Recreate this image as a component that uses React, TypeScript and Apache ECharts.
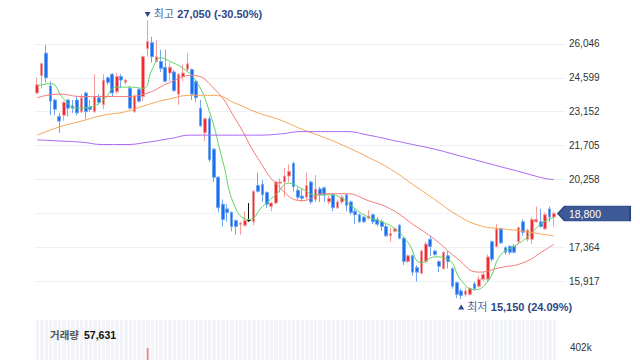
import { useEffect, useRef } from 'react';
import * as echarts from 'echarts';

// [open, close, low, high] per trading day
const candles: number[][] = [
  [23950, 24300, 23900, 24600], [24700, 25200, 24150, 25250], [25650, 24600, 24400, 26000], [24250, 23600, 23000, 24450],
  [23650, 23250, 23000, 23700], [22950, 22750, 22250, 23100], [23000, 23550, 22750, 23600], [23650, 23300, 22950, 23700],
  [23400, 23300, 23100, 23650], [23650, 23100, 23000, 23800], [23150, 23750, 23100, 23900], [23950, 23150, 22850, 24000],
  [23350, 23250, 23150, 23650], [23150, 23800, 23100, 24750], [23750, 23550, 23450, 23900], [23450, 24500, 23250, 24750],
  [24600, 24400, 24300, 24650], [24750, 23950, 23800, 24800], [24000, 24650, 23900, 24800], [24650, 24500, 24150, 24750],
  [24400, 24500, 24300, 24550], [24150, 23300, 23250, 24250], [23150, 23800, 23100, 23900], [24100, 23600, 23550, 24150],
  [23800, 25500, 23600, 25550], [25850, 26150, 25500, 27050], [26100, 25500, 25250, 26350], [25300, 25500, 25250, 26200],
  [25300, 25000, 24850, 25800], [25050, 24450, 24400, 25800], [24800, 25050, 24450, 25250], [24850, 24050, 24000, 24950],
  [23900, 24750, 23450, 24800], [24650, 24800, 24450, 25150], [24950, 25200, 24850, 25650], [24950, 23900, 23650, 25000],
  [24450, 23750, 23550, 24500], [23300, 22550, 22500, 23650], [22250, 22850, 21900, 22900], [22850, 21100, 21000, 22950],
  [21550, 20350, 20150, 21600], [20350, 19050, 18850, 20400], [19200, 18550, 18250, 19400], [19000, 18850, 18450, 19200],
  [18850, 18250, 18050, 18900], [18500, 18250, 17900, 18550], [18350, 18400, 17900, 18450], [18300, 18500, 18250, 18900],
  [18500, 18500, 18450, 19250], [18450, 19750, 18300, 19800], [20000, 19750, 19700, 20550], [20050, 19600, 19300, 20250],
  [19700, 19200, 19050, 19750], [19100, 19250, 18900, 19300], [19250, 20150, 19200, 20200], [20100, 20150, 19700, 20300],
  [20150, 20400, 19500, 20750], [20400, 20600, 20150, 20900], [20950, 19950, 19750, 21000], [19800, 19500, 19400, 19900],
  [19550, 19450, 19300, 19850], [19500, 20000, 19400, 20550], [20150, 19300, 19200, 20200], [19400, 19850, 19300, 20450],
  [19850, 19600, 19300, 19950], [19900, 19600, 19300, 19950], [19300, 19450, 19200, 19550], [19600, 19050, 18900, 19650],
  [19050, 19300, 19000, 19400], [19300, 19500, 19200, 19600], [19600, 19150, 18900, 19650], [19300, 18850, 18750, 19350],
  [18900, 18750, 18350, 19000], [18750, 18450, 18400, 18800], [18650, 18450, 18400, 18700], [18600, 18700, 18550, 18950],
  [18750, 18450, 18350, 18800], [18550, 18350, 18250, 18650], [18450, 18250, 18050, 18550], [18250, 17850, 17800, 18350],
  [17850, 17950, 17600, 18200], [18050, 18150, 18000, 18200], [18300, 17750, 17700, 18350], [17750, 16750, 16600, 17800],
  [16750, 17000, 16700, 17050], [17000, 16300, 16150, 17050], [16500, 16300, 15900, 16600], [16250, 17200, 16200, 17250],
  [16750, 17500, 16700, 17600], [17700, 17400, 17000, 17850], [17200, 17050, 17000, 17250], [16750, 16550, 16300, 16800],
  [16450, 17150, 16400, 17200], [17000, 16750, 16450, 17200], [16450, 15700, 15600, 16500], [15850, 15350, 15200, 15900],
  [15500, 15300, 15150, 15600], [15350, 15500, 15250, 15650], [15350, 15600, 15300, 15650], [15800, 15600, 15500, 15900],
  [15700, 16000, 15650, 16150], [16000, 16200, 15900, 16300], [16000, 16950, 15900, 17050], [17600, 16850, 16750, 17650],
  [17400, 18150, 17350, 18350], [18150, 17550, 17500, 18200], [17350, 17150, 17050, 17400], [17400, 17150, 17050, 17450],
  [17400, 17150, 17100, 17500], [17600, 18200, 17500, 18250], [18450, 18000, 17850, 18550], [17700, 18100, 17600, 18150],
  [17700, 18550, 17500, 18650], [18450, 18550, 18400, 19100], [18450, 18250, 18200, 19000], [18150, 18750, 18100, 18850],
  [19000, 18650, 18450, 19100], [18650, 18800, 18250, 18900],
];

// moving averages: [dayIndex, value]
const ma5: number[][] = [
  [0, 24250], [3, 24350], [6, 23700], [9, 23300], [12, 23350], [15, 23650], [18, 24200], [21, 24200], [24, 24150],
  [26, 24950], [28, 25450], [30, 25300], [33, 25000], [36, 24450], [39, 23150], [42, 21050], [45, 19000], [48, 18550],
  [51, 19100], [54, 19600], [57, 20100], [60, 19850], [63, 19600], [66, 19600], [69, 19450], [72, 19000], [75, 18650],
  [78, 18450], [81, 18150], [84, 17550], [87, 16700], [90, 16950], [93, 16850], [96, 15950], [99, 15550], [102, 15900],
  [105, 17050], [108, 17400], [111, 17800], [114, 18350], [117, 18650],
];
const ma20: number[][] = [
  [0, 23750], [5, 23900], [10, 23800], [15, 23800], [20, 23800], [25, 23950], [30, 24400], [35, 24700], [40, 24150],
  [45, 22800], [50, 21150], [55, 19900], [60, 19350], [65, 19650], [70, 19650], [75, 19350], [80, 19000], [85, 18350],
  [90, 17700], [95, 16900], [100, 16300], [105, 16500], [110, 16700], [115, 17250], [117, 17500],
];
const ma60: number[][] = [
  [0, 22150], [5, 22500], [10, 22750], [15, 23000], [20, 23150], [25, 23450], [30, 23700], [35, 23850], [40, 23850],
  [45, 23500], [50, 23100], [55, 22800], [60, 22400], [65, 22050], [70, 21650], [75, 21200], [80, 20700], [85, 20050],
  [90, 19400], [95, 18750], [100, 18300], [105, 18150], [110, 18050], [115, 17900], [117, 17850],
];
const ma120: number[][] = [
  [0, 21950], [5, 21900], [10, 21850], [15, 21750], [20, 21750], [25, 21850], [30, 22000], [35, 22150], [40, 22150],
  [45, 22150], [50, 22150], [55, 22200], [60, 22300], [65, 22300], [70, 22300], [75, 22150], [80, 21950], [85, 21750],
  [90, 21550], [95, 21300], [100, 21050], [105, 20800], [110, 20550], [115, 20300], [117, 20250],
];

// volumes: only these are visible in the cropped panel
const volumeKnown: number[][] = [[25, 400000], [117, 57631]];

// axis ticks
const PRICE_STEP = 1447;
const PRICE_MIN = 14470;
const PRICE_MAX = 27493;
const VOL_STEP = 402000;
const VOL_MAX = 536000;
const SLOTS = 120; // x slots incl. empty room at right

const UP = '#ef2b31';
const UP_EDGE = '#f59a9d';
const DOWN = '#1a6ff0';
const DOWN_EDGE = '#6fa6f4';
const FONT = "'Liberation Sans', 'Noto Sans CJK KR', sans-serif";

const fmt = (v: number) => v.toLocaleString('en-US');

export default function App() {
  const ref = useRef<HTMLDivElement>(null);
  useEffect(() => {
    if (!ref.current) return;
    const chart = echarts.init(ref.current, undefined, { renderer: 'svg' });
    const slots = Array.from({ length: SLOTS }, (_, i) => String(i + 1));
    const n = candles.length;
    const lastIdx = n - 1;
    const lastClose = candles[lastIdx][1];
    const highs = candles.map((c) => c[3]);
    const lows = candles.map((c) => c[2]);
    const maxHigh = Math.max(...highs);
    const minLow = Math.min(...lows);
    const maxIdx = highs.indexOf(maxHigh);
    const minIdx = lows.indexOf(minLow);
    const pct = (ref: number) => ((lastClose / ref - 1) * 100).toFixed(2) + '%';
    const volMap = new Map(volumeKnown.map((v) => [v[0], v[1]]));
    const volumes = candles.map((c, i) => {
      const v = volMap.get(i);
      if (v === undefined) return null;
      return { value: v, itemStyle: { color: c[1] >= c[0] ? '#f28186' : '#6fa6f4' } };
    });
    const lastVolume = volumeKnown[volumeKnown.length - 1][1];
    const bandW = 530 / SLOTS;

    const maLine = (name: string, data: number[][], color: string) => ({
      name,
      type: 'line',
      xAxisIndex: 0,
      yAxisIndex: 0,
      data,
      smooth: true,
      showSymbol: false,
      symbol: 'none',
      connectNulls: true,
      z: 3,
      lineStyle: { color, width: 1 },
    });

    const richMark = {
      a: { color: '#50669f', fontSize: 11, fontFamily: FONT },
      b: { color: '#2f4689', fontSize: 11, fontWeight: 'bold', fontFamily: FONT },
    };

    chart.setOption({
      animation: false,
      textStyle: { fontFamily: FONT },
      title: {
        text: `{a|거래량} {b|${fmt(lastVolume)}}`,
        left: 50,
        top: 326,
        padding: 0,
        textStyle: {
          rich: {
            a: { color: '#555', fontSize: 10.5, fontFamily: FONT },
            b: { color: '#111', fontSize: 10.5, fontWeight: 'bold', fontFamily: FONT },
          },
        },
      },
      grid: [
        { left: 35, width: 530, top: 10, height: 305, outerBoundsMode: 'none', containLabel: false },
        {
          left: 35,
          width: bandW * n,
          top: 320,
          height: 110,
          show: true,
          backgroundColor: '#f2f4f8',
          borderWidth: 0,
          outerBoundsMode: 'none',
          containLabel: false,
        },
      ],
      xAxis: [
        {
          type: 'category',
          gridIndex: 0,
          data: slots,
          boundaryGap: true,
          axisLine: { show: false },
          axisTick: { show: false },
          axisLabel: { show: false },
          splitLine: { show: false },
        },
        {
          type: 'category',
          gridIndex: 1,
          data: slots.slice(0, n),
          boundaryGap: true,
          axisLine: { show: false },
          axisTick: { show: false },
          axisLabel: { show: false },
          splitLine: { show: true, interval: 0, lineStyle: { color: '#ffffff', width: 1 } },
        },
      ],
      yAxis: [
        {
          type: 'value',
          gridIndex: 0,
          position: 'right',
          min: PRICE_MIN,
          max: PRICE_MAX,
          interval: PRICE_STEP,
          axisLine: { show: false },
          axisTick: { show: false },
          axisLabel: {
            margin: 4,
            color: '#333',
            fontSize: 10,
            showMinLabel: false,
            showMaxLabel: false,
            formatter: (v: number) => (Math.abs(v - lastClose) < PRICE_STEP / 2 ? '' : fmt(v)),
          },
          splitLine: { lineStyle: { color: '#edf0f5', width: 1 }, showMinLine: false, showMaxLine: false },
        },
        {
          type: 'value',
          gridIndex: 1,
          position: 'right',
          min: 0,
          max: VOL_MAX,
          interval: VOL_STEP,
          axisLine: { show: false },
          axisTick: { show: false },
          axisLabel: {
            margin: 570 - (35 + bandW * n),
            color: '#333',
            fontSize: 10,
            showMinLabel: false,
            showMaxLabel: false,
            formatter: (v: number) => Math.round(v / 1000) + 'k',
          },
          splitLine: { show: false },
        },
      ],
      series: [
        {
          type: 'candlestick',
          xAxisIndex: 0,
          yAxisIndex: 0,
          data: candles.map((c) => [c[0], c[1], c[2], c[3]]),
          barWidth: '72%',
          z: 2,
          itemStyle: {
            color: UP,
            color0: DOWN,
            borderColor: UP_EDGE,
            borderColor0: DOWN_EDGE,
            borderColorDoji: '#111',
            borderWidth: 1,
          },
          markPoint: {
            z: 10,
            data: [
              {
                coord: [maxIdx, maxHigh],
                symbol: 'triangle',
                symbolRotate: 180,
                symbolSize: [6, 5],
                symbolOffset: [0, -6],
                itemStyle: { color: '#2f4689' },
                label: {
                  show: true,
                  position: 'right',
                  distance: 3,
                  formatter: `{a|최고} {b|${fmt(maxHigh)} (${pct(maxHigh)})}`,
                  rich: richMark,
                },
              },
              {
                coord: [minIdx, minLow],
                symbol: 'triangle',
                symbolSize: [6, 5],
                symbolOffset: [0, 8],
                itemStyle: { color: '#2f4689' },
                label: {
                  show: true,
                  position: 'right',
                  distance: 3,
                  formatter: `{a|최저} {b|${fmt(minLow)} (${pct(minLow)})}`,
                  rich: richMark,
                },
              },
              {
                coord: [lastIdx, lastClose],
                symbol: 'path://M0,7L7,0L72,0L72,14L7,14Z',
                symbolSize: [72, 15],
                symbolOffset: [40, 0],
                itemStyle: { color: '#3d5a96', borderColor: '#2c4783', borderWidth: 1 },
                label: {
                  show: true,
                  position: 'inside',
                  offset: [-9, 0],
                  color: '#ffffff',
                  fontSize: 10.5,
                  fontFamily: FONT,
                  formatter: fmt(lastClose),
                },
              },
            ],
          },
        },
        maLine('MA5', ma5, '#5fd35f'),
        maLine('MA20', ma20, '#f47a7a'),
        maLine('MA60', ma60, '#f7a553'),
        maLine('MA120', ma120, '#a866f0'),
        {
          type: 'bar',
          name: 'volume',
          xAxisIndex: 1,
          yAxisIndex: 1,
          data: volumes,
          barWidth: '40%',
        },
      ],
    });
    return () => chart.dispose();
  }, []);
  return (
    <div
      ref={ref}
      style={{ position: 'fixed', left: 0, top: 0, width: 640, height: 360, background: '#fff' }}
    />
  );
}
